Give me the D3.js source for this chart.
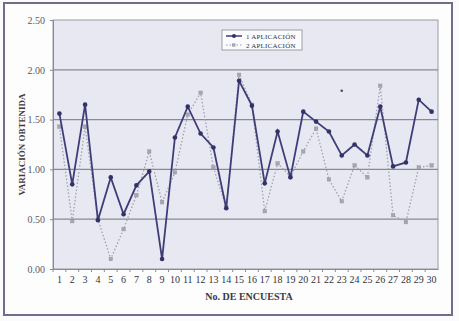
<!DOCTYPE html>
<html>
<head>
<meta charset="utf-8">
<script src="https://cdn.jsdelivr.net/npm/d3@7"></script>
<style>
body { margin: 0; background: #fbfbfd; }
svg { display: block; }
</style>
</head>
<body>
<svg width="459" height="321"></svg>
<script>
// datos
var encuestas = d3.range(1, 31);
var aplicacion1 = [1.56, 0.85, 1.65, 0.49, 0.92, 0.55, 0.84, 0.98, 0.10, 1.32,
                   1.63, 1.36, 1.22, 0.61, 1.89, 1.64, 0.86, 1.38, 0.92, 1.58,
                   1.48, 1.38, 1.14, 1.25, 1.14, 1.63, 1.03, 1.07, 1.70, 1.58];
var aplicacion2 = [1.43, 0.48, 1.43, 0.50, 0.10, 0.40, 0.74, 1.18, 0.67, 0.97,
                   1.55, 1.77, 1.02, 0.62, 1.95, 1.65, 0.58, 1.06, 0.93, 1.18,
                   1.41, 0.90, 0.68, 1.04, 0.92, 1.84, 0.54, 0.47, 1.02, 1.04];
var yTicks = [0, 0.5, 1, 1.5, 2, 2.5];
var nombres = ["1  APLICACIÓN", "2  APLICACIÓN"];

var svg = d3.select("svg");
var pLeft = 53, pRight = 438, pTop = 20, pBottom = 269;

// marco exterior
svg.append("rect")
  .attr("x", 4).attr("y", 3).attr("width", 448).attr("height", 312)
  .attr("fill", "#fdfdfe").attr("stroke", "#6e6d8a").attr("stroke-width", 2);

var xScale = d3.scaleBand().domain(encuestas).range([pLeft, pRight]);
var yScale = d3.scaleLinear().domain([0, 2.5]).range([pBottom, pTop]);

// area del grafico
svg.append("rect")
  .attr("x", pLeft).attr("y", pTop).attr("width", pRight - pLeft).attr("height", pBottom - pTop)
  .attr("fill", "#e7e8f2").attr("stroke", "#9a9aa6").attr("stroke-width", 1);

svg.selectAll(".grid")
  .data(yTicks.slice(1, -1))
  .enter().append("line")
  .attr("x1", pLeft).attr("x2", pRight)
  .attr("y1", function(d) { return yScale(d); })
  .attr("y2", function(d) { return yScale(d); })
  .attr("stroke", "#8a8a94").attr("stroke-width", 1.2);

var yAxis = svg.append("g")
  .attr("transform", "translate(" + pLeft + ",0)")
  .call(d3.axisLeft(yScale).tickValues(yTicks).tickFormat(d3.format(".2f")).tickSize(3).tickPadding(5));
var xAxis = svg.append("g")
  .attr("transform", "translate(0," + pBottom + ")")
  .call(d3.axisBottom(xScale).tickSize(0).tickPadding(7));

[yAxis, xAxis].forEach(function(ax) {
  ax.select(".domain").attr("stroke", "#8a8a96");
  ax.selectAll(".tick line").attr("stroke", "#8a8a96");
  ax.selectAll("text").attr("fill", "#5a5a64")
    .attr("font-family", "'Liberation Serif', serif").attr("font-size", 10);
});
xAxis.selectAll("text").attr("fill", "#33333d");

// marcas entre categorias
svg.selectAll(".xt")
  .data(encuestas)
  .enter().append("line")
  .attr("x1", function(d) { return xScale(d); })
  .attr("x2", function(d) { return xScale(d); })
  .attr("y1", pBottom).attr("y2", pBottom + 3)
  .attr("stroke", "#8a8a96");

var cx = function(d, i) { return xScale(encuestas[i]) + xScale.bandwidth() / 2; };

// serie 2 (punteada)
svg.append("path")
  .datum(aplicacion2)
  .attr("fill", "none").attr("stroke", "#a0a0ae").attr("stroke-width", 1.3)
  .attr("stroke-dasharray", "1.5,2")
  .attr("d", d3.line().x(cx).y(function(d) { return yScale(d); }));
svg.selectAll(".m2")
  .data(aplicacion2)
  .enter().append("rect")
  .attr("x", function(d, i) { return cx(d, i) - 1.7; })
  .attr("y", function(d) { return yScale(d) - 1.7; })
  .attr("width", 3.4).attr("height", 3.4)
  .attr("fill", "#a9a6b3").attr("stroke", "#9592a0").attr("stroke-width", 0.5);

// serie 1 (continua)
svg.append("path")
  .datum(aplicacion1)
  .attr("fill", "none").attr("stroke", "#3f3d78").attr("stroke-width", 1.8)
  .attr("d", d3.line().x(cx).y(function(d) { return yScale(d); }));
svg.selectAll(".m1")
  .data(aplicacion1)
  .enter().append("circle")
  .attr("cx", cx)
  .attr("cy", function(d) { return yScale(d); })
  .attr("r", 2.3)
  .attr("fill", "#33316a");

// punto suelto en la encuesta 23
svg.append("circle")
  .attr("cx", xScale(23) + xScale.bandwidth() / 2)
  .attr("cy", yScale(1.79))
  .attr("r", 1.3).attr("fill", "#4a4870");

// titulos de ejes
svg.append("text")
  .attr("transform", "translate(25," + (pTop + pBottom) / 2 + ") rotate(-90)")
  .attr("text-anchor", "middle")
  .attr("font-family", "'Liberation Serif', serif").attr("font-weight", "bold")
  .attr("font-size", 9).attr("fill", "#3a3a44")
  .text("VARIACIÓN OBTENIDA");
svg.append("text")
  .attr("x", 249).attr("y", 300)
  .attr("text-anchor", "middle")
  .attr("font-family", "'Liberation Serif', serif").attr("font-weight", "bold")
  .attr("font-size", 10).attr("fill", "#3a3a44")
  .text("No. DE ENCUESTA");

// leyenda
var lg = svg.append("g").attr("transform", "translate(222,30)");
lg.append("rect")
  .attr("width", 80).attr("height", 20)
  .attr("fill", "#fbfbfd").attr("stroke", "#8a8a96").attr("stroke-width", 0.8);
nombres.forEach(function(n, i) {
  var y = 6 + i * 9;
  lg.append("line")
    .attr("x1", 4).attr("x2", 20).attr("y1", y).attr("y2", y)
    .attr("stroke", i == 0 ? "#3f3d78" : "#9a9aa8")
    .attr("stroke-width", i == 0 ? 1.5 : 1.2)
    .attr("stroke-dasharray", i == 0 ? null : "1.5,2");
  if (i == 0) {
    lg.append("circle").attr("cx", 12).attr("cy", y).attr("r", 2).attr("fill", "#33316a");
  } else {
    lg.append("rect").attr("x", 10).attr("y", y - 1.7).attr("width", 3.4).attr("height", 3.4)
      .attr("fill", "#a9a6b3");
  }
  lg.append("text")
    .attr("x", 24).attr("y", y + 2.5)
    .attr("font-family", "'Liberation Serif', serif").attr("font-size", 7)
    .attr("letter-spacing", 0.2)
    .attr("fill", "#33333d")
    .text(n);
});
</script>
</body>
</html>
